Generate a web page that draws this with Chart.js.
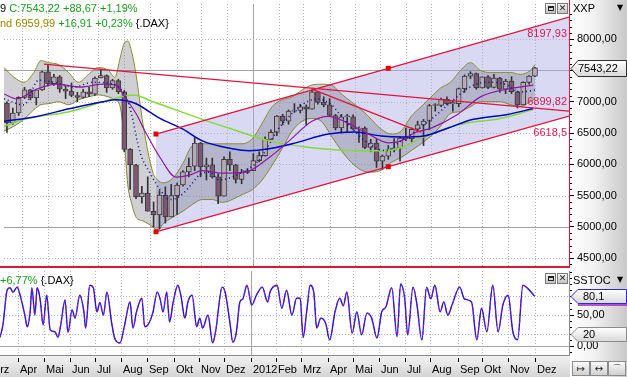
<!DOCTYPE html>
<html>
<head>
<meta charset="utf-8">
<script src="https://cdn.jsdelivr.net/npm/chart.js@4.4.1/dist/chart.umd.min.js"></script>
<style>
html,body{margin:0;padding:0;width:627px;height:377px;overflow:hidden;background:#fff;font-family:'Liberation Sans',Arial,sans-serif;font-size:11px;}
.abs{position:absolute;}
#axisStrip{left:570px;top:0;width:57px;height:377px;background:linear-gradient(to right,#ffffff 0%,#f3f3f3 40%,#c8c8c8 100%);}
#xStrip{left:0;top:356px;width:570px;height:21px;background:linear-gradient(#f2f2f2,#d4d4d4);}
.t{position:absolute;white-space:nowrap;line-height:13px;font-size:11px;color:#000;}
.g{color:#1e9e1e;}
.o{color:#9c8400;}
.btn{position:absolute;width:9px;height:9px;border:1px solid #7a7a7a;background:linear-gradient(#f4f4f4,#c4c4c4);font-size:9px;line-height:9px;text-align:center;color:#222;font-family:'DejaVu Sans',sans-serif;}
.nav{position:absolute;top:361px;width:16px;height:13px;border:1px solid #8a8a8a;background:linear-gradient(#fafafa,#d0d0d0);font-size:10px;line-height:13px;text-align:center;color:#222;font-family:'DejaVu Sans',sans-serif;}
</style>
</head>
<body>
<div id="axisStrip" class="abs"></div>
<div id="xStrip" class="abs"></div>
<canvas id="main" class="abs" width="627" height="270" style="left:0;top:0"></canvas>
<canvas id="osc" class="abs" width="627" height="107" style="left:0;top:270px"></canvas>

<div class="t" style="left:0;top:2px">9 <span class="g">C:7543,22 +88,67 +1,19%</span></div>
<div class="t" style="left:0;top:17px"><span class="o">nd 6959,99</span> <span class="g">+16,91 +0,23%</span> {.DAX}</div>
<div class="t" style="left:0;top:274px"><span class="g">+6,77%</span> {.DAX}</div>
<div class="t" style="left:573px;top:2px">XXP</div>
<div class="t" style="left:617px;top:1px;font-size:8px;font-family:'DejaVu Sans'">▼</div>
<div class="t" style="left:573px;top:274px">SSTOC</div>
<div class="t" style="left:617px;top:273px;font-size:8px;font-family:'DejaVu Sans'">▼</div>
<div class="btn" style="left:545px;top:3px"><div style="margin:2px auto 0;width:4px;height:2px;border:1px solid #222;border-top-width:2px"></div></div>
<div class="btn" style="left:557px;top:3px">✕</div>
<div class="btn" style="left:545px;top:273px"><div style="margin:2px auto 0;width:4px;height:2px;border:1px solid #222;border-top-width:2px"></div></div>
<div class="btn" style="left:557px;top:273px">✕</div>
<div class="nav" style="left:572px">↦</div>
<div class="nav" style="left:590px">↔</div>
<div class="nav" style="left:608px">⌒</div>

<script>
// ---------- axis / category data ----------
const MONTH_LABELS = ['Mrz','Apr','Mai','Jun','Jul','Aug','Sep','Okt','Nov','Dez','2012','Feb','Mrz','Apr','Mai','Jun','Jul','Aug','Sep','Okt','Nov','Dez'];
// position of each month start, in weeks since 14 Mar 2011
const MONTH_WEEKS = [-2.3,2.57,7.0,11.29,15.57,20,24.43,29,33.14,37.43,42,46.29,50.43,55,59.29,63.57,68,72.29,77,81,85.43,90];
const X_MIN = -0.5, X_MAX = 95.8;
const Y_MIN = 4375, Y_MAX = 8562.5;
const Y_TICKS = [4500,5000,5500,6000,6500,7000,7500,8000];
const Y_SOLID = [5000,7500];
const S_MIN = -14.5, S_MAX = 121;
const S_TICKS = [0,50];
const S_GRID = [0,20,50,80];
const S_SOLID = [0];
const S_LEVEL = 20;

// ---------- weekly candles (week index 0 = 14 Mar 2011) ----------
const OPEN  = [6980,6660,6820,7070,7190,7060,7190,7480,7290,7400, 7200,7170,7100,7070,7160,7120,7380,7420,7220,7340,
               7160,6240,5990,5480,5540,5250,5190,5510,5160,5500, 5670,5880,5970,6340,5960,5990,5800,5490,6080,5990,
               5760,5870,5900,6060,6140,6400,6510,6770,6690,6850, 6860,6920,6880,7160,6990,6950,6780,6580,6760,6760,
               6560,6580,6270,6340,6050,6130,6230,6260,6420,6410, 6560,6630,6690,6940,6940,7040,6970,6970,7210,7410,
               7450,7220,7400,7230,7380,7200,7330,7160,6950,7310, 7410];
const HIGH  = [7000,6900,7080,7230,7200,7200,7490,7600,7440,7420, 7250,7300,7150,7200,7230,7400,7520,7430,7360,7360,
               7180,6250,6000,5650,5800,5400,5580,5640,5680,5700, 5900,6100,6430,6350,6100,6100,5850,6120,6200,6000,
               5920,5930,6170,6200,6440,6550,6780,6800,6870,6970, 6960,6950,7190,7160,7080,7050,6800,6800,6800,6790,
               6600,6600,6400,6400,6150,6300,6410,6440,6580,6580, 6690,6720,6960,6970,7060,7080,7020,7220,7430,7480,
               7460,7400,7420,7440,7390,7360,7400,7170,7320,7420, 7550];
const LOW   = [6510,6640,6780,7050,7030,6950,7180,7250,7260,7150, 7050,7080,7000,7060,7080,7100,7380,7150,7200,7130,
               6200,5600,5450,5380,5250,5000,4970,5060,5160,5200, 5650,5800,5900,5800,5750,5780,5370,5490,5900,5700,
               5690,5850,5900,6040,6130,6400,6460,6630,6640,6830, 6820,6630,6880,6960,6920,6770,6550,6500,6520,6550,
               6350,6250,6200,5950,5920,6080,6200,6050,6380,6350, 6520,6300,6550,6850,6920,6950,6850,6920,7150,7370,
               7200,7220,7210,7220,7150,7130,7130,6900,6950,7280, 7400];
const CLOSE = [6660,6820,7070,7190,7060,7190,7480,7290,7400,7200, 7170,7100,7070,7160,7120,7380,7420,7220,7340,7160,
               6240,5990,5480,5540,5250,5190,5510,5160,5500,5670, 5880,5970,6340,5960,5990,5800,5490,6080,5990,5760,
               5870,5900,6060,6140,6400,6510,6770,6690,6850,6860, 6920,6880,7160,6990,6950,6780,6580,6760,6760,6560,
               6580,6270,6340,6050,6130,6230,6260,6420,6410,6560, 6630,6690,6940,6940,7040,6970,6970,7210,7410,7450,
               7220,7400,7230,7380,7200,7330,7160,6950,7310,7410, 7543.22];
const LAST_CLOSE = 7543.22;

// ---------- Bollinger band ----------
const BAND_W  = [-0.5,1.2,2.9,4.6,5.8,7.1,8.8,10.5,12.2,13.9,15.6,17.3,18.4,19.3,20.0,20.6,21.3,22.0,23.2,24.9,
                 25.7,26.6,28.3,30.0,31.6,33.3,35.0,36.7,38.4,40.1,41.8,43.5,45.2,46.9,48.6,50.3,51.9,53.6,55.3,57.0,
                 58.7,60.4,62.1,63.8,65.5,67.2,68.9,70.6,72.3,73.9,75.6,77.3,79.0,80.7,82.4,84.1,85.8,87.5,89.2,90.0];
const BAND_UP = [7547,7391,7312,7469,7656,7625,7594,7469,7312,7437,7547,7500,7391,7703,7937,7969,7781,7437,6641,5859,
                 5750,5703,5781,6016,6297,6328,6328,6328,6328,6328,6406,6656,6922,7031,7078,7187,7266,7281,7266,7125,
                 7000,6875,6719,6562,6484,6531,6766,6922,7078,7219,7312,7500,7625,7500,7469,7469,7469,7437,7500,7594];
const BAND_LO = [6531,6609,6719,6875,6953,6969,7000,6953,7031,7078,7109,7078,7031,6922,6375,5672,5359,5156,5094,5000,
                 4937,5047,5156,5250,5359,5437,5437,5391,5437,5516,5594,5750,5984,6250,6531,6687,6734,6687,6453,6219,
                 6031,5906,5875,5906,6031,6109,6219,6328,6453,6609,6812,6844,6922,7000,7000,7000,6953,6922,7000,7047];
const MID_W = [-0.5,2.9,5.4,8.0,11.3,14.7,18.1,19.8,21.0,22.7,24.4,26.1,27.7,29.4,31.1,32.8,34.5,36.2,37.9,40.1,
               42.6,44.3,46.0,48.6,50.3,52.8,55.3,57.0,59.6,62.1,64.6,67.2,69.7,72.3,74.8,77.3,79.9,82.4,84.9,87.5,90.0];
const MID_V = [7047,6950,7344,7312,7234,7312,7281,7156,6891,6187,5859,5594,5437,5484,5641,5828,5875,5750,5781,5875,
               6031,6250,6531,6812,6953,7047,6953,6766,6500,6297,6219,6375,6531,6719,6922,7125,7281,7312,7281,7156,7187];

// ---------- moving averages ----------
const PMA_W = [-0.5,1.7,5.1,8.5,12.5,16.4,18.6,20.3,22.0,23.7,26.1,28.8,31.1,33.3,36.7,40.6,44.7,48.1,52.0,54.8,57.5,61.6,65.0,67.2,69.4,72.3,76.8,80.7,85.3,89.7];
const PMA_V = [7125,7047,7203,7281,7234,7281,7266,7047,6812,6500,6109,5797,5828,5900,5859,5875,6109,6375,6687,6766,6687,6484,6344,6375,6500,6578,6797,7078,7203,7266];
const BMA_W = [-0.5,5.1,10.8,16.4,18.6,20.3,22.0,26.1,30.0,33.3,38.4,41.3,44.7,48.6,54.8,59.2,63.8,67.2,71.1,75.1,79.5,85.3,89.7];
const BMA_V = [6687,6766,6891,7000,7031,7016,6969,6734,6562,6375,6250,6219,6250,6328,6484,6516,6453,6437,6453,6578,6719,6797,6891];
const GMA_W = [-0.5,2.9,10.8,18.1,21.5,24.9,33.3,38.4,44.7,52.0,60.4,63.8,67.2,70.6,77.3,84.1,89.7];
const GMA_V = [6609,6719,6844,7047,7109,7000,6719,6562,6375,6266,6219,6219,6266,6422,6641,6734,6875];

// ---------- trend lines ----------
const CH_W  = [25.4, 65, 95.8];
const CH_UP = [6484, 7535, 8352];
const CH_LO = [4922, 5962, 6771];
const LONG_W = [6.3, 95.8], LONG_V = [7600, 6851];
const MAR_W  = [52.0, 70.6], MAR_V  = [7203, 6516];
const LINE_LABELS = ['8197,93','6899,82','6618,5'];
const LINE_LABEL_VALS = [8197.93, 6899.82, 6618.5];

// ---------- slow stochastic ----------
const STO_W = [-0.5,0,0.7,1.2,1.7,2.4,2.9,3.7,4.1,4.6, 4.9,5.4,5.8,6.3,6.8,7.4,8.0,8.8,9.3,9.8,
               10.5,11.0,11.7,12.2,13.0,13.7,14.0,14.7,15.3,15.9, 16.4,17.0,17.6,18.4,18.9,19.8,20.6,21.5,22.0,22.6,
               23.5,24.0,24.6,25.4,26.1,26.6,27.1,27.7,28.2,28.8, 29.6,30.1,30.8,31.3,32.0,32.8,33.3,33.8,34.7,35.5,
               36.0,37.1,37.6,38.4,38.9,39.5,40.1,40.6,41.3,42.1, 42.9,43.9,44.8,45.2,46.4,47.2,48.0,48.9,49.7,50.3,
               50.8,51.4,52.0,52.6,53.1,53.8,54.6,55.3,56.2,57.0, 57.6,58.2,59.1,59.9,60.7,61.6,62.4,63.3,64.1,64.8,
               65.8,66.7,67.3,68.0,68.5,69.4,70.0,70.9,71.7,72.4, 73.1,74.0,74.6,75.3,76.0,77.3,78.1,79.3,80.2,81.0,
               81.9,82.9,83.8,84.6,85.5,86.3,87.1,88.0,88.8,90.0];
const STO_V = [14,34,90,94,87,95,82,50,31,55, 94,50,94,75,34,82,26,23,14,35,
               74,22,58,45,82,55,29,98,94,55, 70,50,87,37,13,5,34,71,29,55,
               77,31,35,55,87,76,55,87,39,70, 98,82,45,71,82,31,45,29,50,5,
               24,95,87,39,6,22,71,76,98,66, 82,95,71,87,98,61,90,50,77,77,
               14,55,98,87,29,45,37,10,55,77, 65,87,21,55,18,53,45,13,55,63,
               94,15,100,76,18,95,71,10,95,76, 98,55,71,50,66,95,76,71,10,61,
               23,98,23,66,82,23,10,98,93,80.1];

// ---------- helpers ----------
const FONT = "'Liberation Sans', Arial, sans-serif";
Chart.defaults.font.family = FONT;
Chart.defaults.font.size = 11;
Chart.defaults.color = '#000';
const fmt2 = v => v.toFixed(2).replace('.', ',');
const pts = (ws, vs) => ws.map((w, i) => ({x: w, y: vs[i]}));

function makeGrid(hVals, solidVals) {
  return {
    id: 'gridLines',
    beforeDatasetsDraw(chart) {
      const {ctx, chartArea: a, scales: {x, y}} = chart;
      ctx.save();
      ctx.lineWidth = 1;
      MONTH_WEEKS.forEach((w, i) => {
        const px = Math.round(x.getPixelForValue(w)) + 0.5;
        if (px < a.left || px > a.right - 1) return;
        const solid = MONTH_LABELS[i] === '2012';
        ctx.setLineDash(solid ? [] : [1, 2]);
        ctx.strokeStyle = solid ? '#a4a4a4' : '#b4b4b4';
        ctx.beginPath(); ctx.moveTo(px, a.top); ctx.lineTo(px, a.bottom); ctx.stroke();
      });
      hVals.forEach(v => {
        const py = Math.round(y.getPixelForValue(v)) + 0.5;
        const solid = solidVals.includes(v);
        ctx.setLineDash(solid ? [] : [1, 2]);
        ctx.strokeStyle = solid ? '#a4a4a4' : '#b4b4b4';
        ctx.beginPath(); ctx.moveTo(a.left, py); ctx.lineTo(a.right, py); ctx.stroke();
      });
      ctx.restore();
    }
  };
}

function drawTag(ctx, x0, y, x1, h, stroke, text, tx) {
  ctx.beginPath();
  ctx.moveTo(x0, y); ctx.lineTo(x0 + 7, y - h); ctx.lineTo(x1, y - h);
  ctx.lineTo(x1, y + h); ctx.lineTo(x0 + 7, y + h); ctx.closePath();
  const g = ctx.createLinearGradient(0, y - h, 0, y + h);
  g.addColorStop(0, '#ffffff'); g.addColorStop(1, '#d8d8d8');
  ctx.fillStyle = g; ctx.fill();
  ctx.strokeStyle = stroke; ctx.lineWidth = 1; ctx.setLineDash([]); ctx.stroke();
  ctx.fillStyle = '#000'; ctx.textAlign = 'left'; ctx.textBaseline = 'middle';
  ctx.font = '11px ' + FONT;
  ctx.fillText(text, tx, y + 0.5);
}

const mainDecor = {
  id: 'mainDecor',
  afterDraw(chart) {
    const {ctx, chartArea: a, scales: {y}} = chart;
    ctx.save();
    ctx.strokeStyle = '#000'; ctx.lineWidth = 1;
    for (let v = Math.ceil(Y_MIN / 100) * 100; v <= Y_MAX; v += 100) {
      if (v % 500 === 0) continue;
      const py = Math.round(y.getPixelForValue(v)) + 0.5;
      ctx.beginPath(); ctx.moveTo(a.right, py); ctx.lineTo(a.right + 3, py); ctx.stroke();
    }
    ctx.fillStyle = '#d21a3a';
    ctx.fillRect(0, a.bottom, a.right + 1, 2);
    ctx.fillRect(a.right, 0, 1, a.bottom);
    ctx.font = '11px ' + FONT; ctx.fillStyle = '#e0184a';
    ctx.textAlign = 'right'; ctx.textBaseline = 'middle';
    const offs = [7, -6, 7];
    LINE_LABEL_VALS.forEach((v, i) => ctx.fillText(LINE_LABELS[i], a.right - 2, y.getPixelForValue(v) + offs[i]));
    const py = Math.round(y.getPixelForValue(LAST_CLOSE)) + 0.5;
    drawTag(ctx, a.right + 2, py, chart.width - 0.5, 8, '#303030', fmt2(LAST_CLOSE), a.right + 9);
    ctx.restore();
  }
};

const oscDecor = {
  id: 'oscDecor',
  afterDraw(chart) {
    const {ctx, chartArea: a, scales: {x, y}} = chart;
    ctx.save();
    ctx.strokeStyle = '#000'; ctx.lineWidth = 1;
    for (let v = -10; v <= 120; v += 10) {
      if (v === 0 || v === 50) continue;
      const py = Math.round(y.getPixelForValue(v)) + 0.5;
      ctx.beginPath(); ctx.moveTo(a.right, py); ctx.lineTo(a.right + 3, py); ctx.stroke();
    }
    ctx.fillStyle = '#8a8a8a';
    ctx.fillRect(a.right, a.top, 1, a.bottom - a.top);
    ctx.fillRect(0, a.bottom, a.right + 1, 1);
    const last = STO_V[STO_V.length - 1];
    const p1 = Math.round(y.getPixelForValue(last)) + 0.5;
    drawTag(ctx, a.right + 2, p1, chart.width - 0.5, 7, '#2a2ad0', String(last).replace('.', ','), a.right + 14);
    ctx.strokeStyle = '#a020c0'; ctx.lineWidth = 1.5;
    ctx.beginPath(); ctx.moveTo(a.right + 9, p1 + 8.5); ctx.lineTo(chart.width, p1 + 8.5); ctx.stroke();
    const p2 = Math.round(y.getPixelForValue(S_LEVEL)) + 0.5;
    drawTag(ctx, a.right + 2, p2, chart.width - 0.5, 7, '#8c8c8c', String(S_LEVEL), a.right + 14);
    // month axis labels
    ctx.fillStyle = '#000'; ctx.font = '11px ' + FONT;
    ctx.textAlign = 'left'; ctx.textBaseline = 'alphabetic';
    MONTH_WEEKS.forEach((w, i) => {
      const px = Math.round(x.getPixelForValue(w));
      ctx.fillRect(px, a.bottom + 3, 1, 4);
      ctx.fillText(MONTH_LABELS[i], px + 2, a.bottom + 18);
    });
    ctx.restore();
  }
};

function yAxis(min, max, ticks, width, cb) {
  return {
    type: 'linear', position: 'right', min: min, max: max,
    afterBuildTicks: s => { s.ticks = ticks.map(v => ({value: v})); },
    afterFit: s => { s.width = width; s.paddingTop = 0; s.paddingBottom = 0; },
    ticks: {color: '#000', font: {size: 11}, padding: 3, callback: cb},
    grid: {drawOnChartArea: false, drawTicks: true, tickLength: 5, tickColor: '#000', lineWidth: 1},
    border: {display: false}
  };
}
const xAxis = {type: 'linear', min: X_MIN, max: X_MAX, offset: false, display: false};

const line = (data, color, width, extra) => Object.assign({
  type: 'line', data: data, borderColor: color, borderWidth: width, pointRadius: 0,
  fill: false, tension: 0.4, cubicInterpolationMode: 'monotone'
}, extra || {});

// ---------- main chart ----------
new Chart(document.getElementById('main'), {
  type: 'bar',
  data: {
    datasets: [
      line(pts(CH_W, CH_UP), 'rgba(0,0,0,0)', 0, {tension: 0, fill: '+1', backgroundColor: 'rgba(170,170,230,0.45)', order: 100}),
      line(pts(CH_W, CH_LO), 'rgba(0,0,0,0)', 0, {tension: 0, order: 100}),
      line(pts(BAND_W, BAND_UP), '#8a8a30', 1, {fill: '+1', backgroundColor: 'rgba(100,100,112,0.30)', order: 90}),
      line(pts(BAND_W, BAND_LO), '#8a8a30', 1, {order: 90}),
      {type: 'bar', data: LOW.map((l, i) => ({x: i, y: [l, HIGH[i]]})), backgroundColor: '#333333',
       barThickness: 1, grouped: false, order: 61},
      {type: 'bar', data: OPEN.map((o, i) => ({x: i, y: [o, CLOSE[i]]})),
       backgroundColor: OPEN.map((o, i) => CLOSE[i] >= o ? '#b9aab9' : '#7c5874'),
       borderColor: '#3c3c3c', borderWidth: 1, borderSkipped: false, minBarLength: 1,
       barThickness: 5, grouped: false, order: 60},
      line(pts(GMA_W, GMA_V), '#86d83c', 1.5, {order: 50}),
      line(pts(BMA_W, BMA_V), '#0000c4', 1.5, {order: 49}),
      line(pts(PMA_W, PMA_V), '#8a1aa0', 1.2, {order: 48}),
      line(pts(MID_W, MID_V), '#10109a', 1.6, {borderDash: [1, 3], order: 47}),
      line(pts(CH_W, CH_UP), '#e0143c', 1.3, {tension: 0, pointRadius: [3.5, 3.5, 0], pointStyle: 'rect',
        pointBackgroundColor: '#e00000', pointBorderWidth: 0, order: 5}),
      line(pts(CH_W, CH_LO), '#e0143c', 1.3, {tension: 0, pointRadius: [3.5, 3.5, 0], pointStyle: 'rect',
        pointBackgroundColor: '#e00000', pointBorderWidth: 0, order: 5}),
      line(pts(LONG_W, LONG_V), '#e0143c', 1.3, {tension: 0, order: 4}),
      line(pts(MAR_W, MAR_V), '#e0143c', 1.3, {tension: 0, order: 4})
    ]
  },
  options: {
    responsive: false, animation: false, devicePixelRatio: 1, events: [],
    layout: {padding: {top: 0, bottom: 2, left: 0, right: 0}},
    plugins: {legend: {display: false}, tooltip: {enabled: false}},
    scales: {
      x: xAxis,
      y: yAxis(Y_MIN, Y_MAX, Y_TICKS, 58, v => v === 7500 ? '' : fmt2(v))
    }
  },
  plugins: [makeGrid(Y_TICKS, Y_SOLID), mainDecor]
});

// ---------- oscillator chart ----------
new Chart(document.getElementById('osc'), {
  type: 'line',
  data: {
    datasets: [
      line(pts(STO_W, STO_V), '#1a1ad0', 1.4, {tension: 0, order: 2}),
      line(pts(STO_W, STO_V), '#9c10b4', 1.1, {tension: 0, borderDash: [3, 4], order: 1})
    ]
  },
  options: {
    responsive: false, animation: false, devicePixelRatio: 1, events: [],
    layout: {padding: {top: 1, bottom: 22, left: 0, right: 0}},
    plugins: {legend: {display: false}, tooltip: {enabled: false}},
    scales: {
      x: xAxis,
      y: yAxis(S_MIN, S_MAX, S_TICKS, 58, v => fmt2(v))
    }
  },
  plugins: [makeGrid(S_GRID, S_SOLID), oscDecor]
});
</script>
</body>
</html>
